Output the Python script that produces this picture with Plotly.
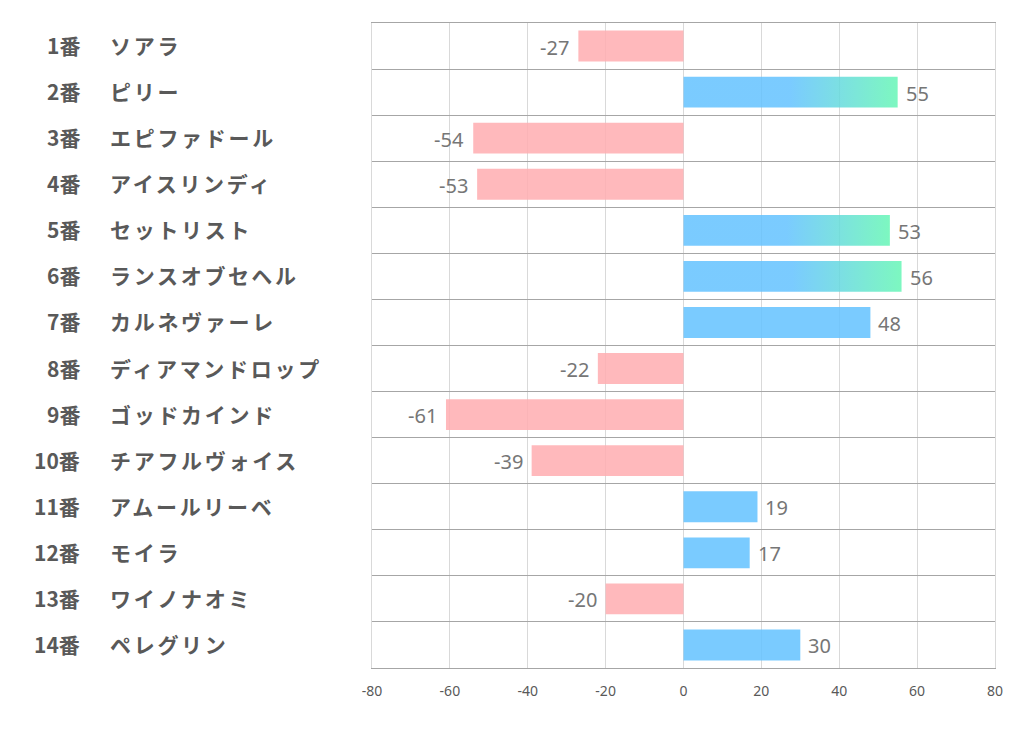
import plotly.graph_objects as go

numbers = ["1番", "2番", "3番", "4番", "5番", "6番", "7番", "8番", "9番", "10番", "11番", "12番", "13番", "14番"]
names = ["ソアラ", "ピリー", "エピファドール", "アイスリンディ", "セットリスト", "ランスオブセヘル", "カルネヴァーレ",
         "ディアマンドロップ", "ゴッドカインド", "チアフルヴォイス", "アムールリーベ", "モイラ", "ワイノナオミ", "ペレグリン"]
values = [-27, 55, -54, -53, 53, 56, 48, -22, -61, -39, 19, 17, -20, 30]
x_ticks = [-80, -60, -40, -20, 0, 20, 40, 60, 80]
highlight_threshold = 50

BLUE = "rgba(99,194,255,0.85)"
PINK = "rgba(255,173,176,0.85)"
GREEN = "rgba(102,246,181,0.85)"
TEXT = "#595959"
LABEL = "#767676"
HALF = 0.335

idx = list(range(len(values)))
fig = go.Figure()

bar_colors = []
for v in values:
    if v >= highlight_threshold:
        bar_colors.append("rgba(0,0,0,0)")
    elif v >= 0:
        bar_colors.append(BLUE)
    else:
        bar_colors.append(PINK)

fig.add_trace(go.Bar(x=values, y=idx, orientation="h", width=2 * HALF,
                     marker=dict(color=bar_colors, line=dict(width=0)),
                     hoverinfo="skip", showlegend=False))

for i, v in enumerate(values):
    if v >= highlight_threshold:
        fig.add_trace(go.Scatter(
            x=[0, v, v, 0, 0], y=[i - HALF, i - HALF, i + HALF, i + HALF, i - HALF],
            mode="lines", line=dict(width=0), fill="toself",
            fillgradient=dict(type="horizontal",
                              colorscale=[[0, BLUE], [0.5, BLUE], [1, GREEN]]),
            hoverinfo="skip", showlegend=False))

annotations = []
for i, v in enumerate(values):
    annotations.append(dict(x=v, y=i, xref="x", yref="y", text=str(v), showarrow=False,
                            xanchor="left" if v >= 0 else "right",
                            xshift=6 if v >= 0 else -7, yshift=-1,
                            font=dict(family="Noto Sans, Open Sans, sans-serif", size=20, color=LABEL)))
    annotations.append(dict(x=-0.4655, y=i, xref="paper", yref="y", text=numbers[i], showarrow=False,
                            xanchor="right", yshift=1,
                            font=dict(family="Noto Sans CJK JP", size=21, color=TEXT, weight="bold")))
    annotations.append(dict(x=-0.4238, y=i, xref="paper", yref="y",
                            text='<span style="letter-spacing:2.7px">' + names[i] + '</span>',
                            showarrow=False, xanchor="left", yshift=1,
                            font=dict(family="Noto Sans CJK JP", size=21, color=TEXT, weight="bold")))

fig.update_layout(
    width=1006, height=714,
    margin=dict(l=364, r=19, t=15, b=54),
    plot_bgcolor="white", paper_bgcolor="white",
    annotations=annotations,
    xaxis=dict(range=[-80, 80], tickvals=x_ticks, ticktext=[str(t) for t in x_ticks],
               showgrid=True, gridcolor="#d9d9d9", gridwidth=1, zeroline=False,
               showline=True, mirror=True, linecolor="#a6a6a6", linewidth=1, ticks="",
               ticklabelstandoff=10,
               tickfont=dict(family="Noto Sans, Open Sans, sans-serif", size=14, color=TEXT),
               fixedrange=True),
    yaxis=dict(range=[len(values) - 0.5, -0.5], tickvals=[k - 0.5 for k in range(len(values) + 1)],
               showticklabels=False, showgrid=True, gridcolor="#a6a6a6", gridwidth=1,
               zeroline=False, showline=True, mirror=True, linecolor="#d9d9d9", linewidth=1,
               ticks="", fixedrange=True),
)

fig.write_html("out.html")
